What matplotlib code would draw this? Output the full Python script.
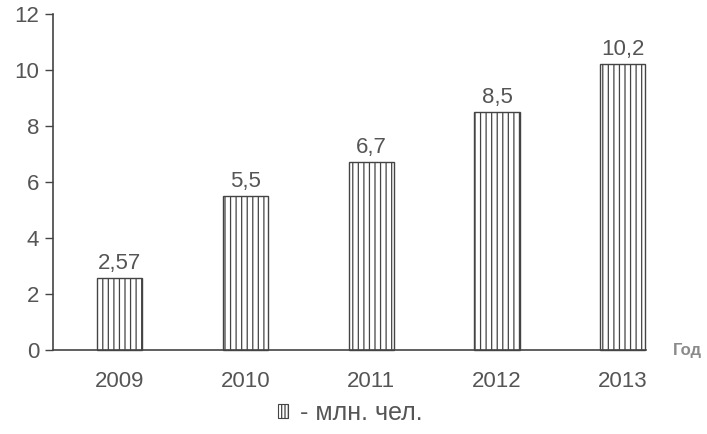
import numpy as np
import matplotlib
matplotlib.use('Agg')
import matplotlib.pyplot as plt
from matplotlib.patches import Patch

years = ['2009', '2010', '2011', '2012', '2013']
values = [2.57, 5.5, 6.7, 8.5, 10.2]
value_labels = ['2,57', '5,5', '6,7', '8,5', '10,2']
yticks = [0, 2, 4, 6, 8, 10, 12]

plt.rcParams['font.family'] = ['Liberation Sans', 'DejaVu Sans']
plt.rcParams['hatch.linewidth'] = 0.9
plt.rcParams['hatch.color'] = '#6a6a6a'

txt = '#555555'
line = '#444444'

fig = plt.figure(figsize=(7.07, 4.34), dpi=100)
ax = fig.add_axes([53/707, 84/434, (646-53)/707, (350-14)/434])

x = np.arange(len(years))
bars = ax.bar(x, values, width=0.36, facecolor='white', edgecolor=line,
              linewidth=1.0, hatch='|||', clip_on=False)

for xi, v, lab in zip(x, values, value_labels):
    ax.annotate(lab, (xi, v), xytext=(0, 3), textcoords='offset points',
                ha='center', va='bottom', fontsize=16, color=txt)

ax.set_xlim(-0.53, 4.185)
ax.set_ylim(0, 12)
ax.set_xticks(x)
ax.set_xticklabels(years)
ax.set_yticks(yticks)
ax.tick_params(axis='x', length=0, pad=15, labelsize=16, labelcolor=txt)
ax.tick_params(axis='y', length=6, width=1.0, color=line, pad=4,
               labelsize=16, labelcolor=txt)
for s in ['top', 'right']:
    ax.spines[s].set_visible(False)
for s in ['left', 'bottom']:
    ax.spines[s].set_color(line)
    ax.spines[s].set_linewidth(1.2)

ax.annotate('Год', (1.07, 0.0), xycoords='axes fraction', ha='center',
            va='center', fontsize=12, fontweight='bold', color='#8a8a8a')

handle = Patch(facecolor='white', edgecolor=line, hatch='|||||', linewidth=0.8)
fig.legend(handles=[handle], labels=['- млн. чел.'], loc='center',
           bbox_to_anchor=(350/707, 1 - 413/434), frameon=False,
           handlelength=0.42, handleheight=0.47, handletextpad=0.45,
           fontsize=18, labelcolor=txt)

fig.savefig('out.png', dpi=100, facecolor='white')
